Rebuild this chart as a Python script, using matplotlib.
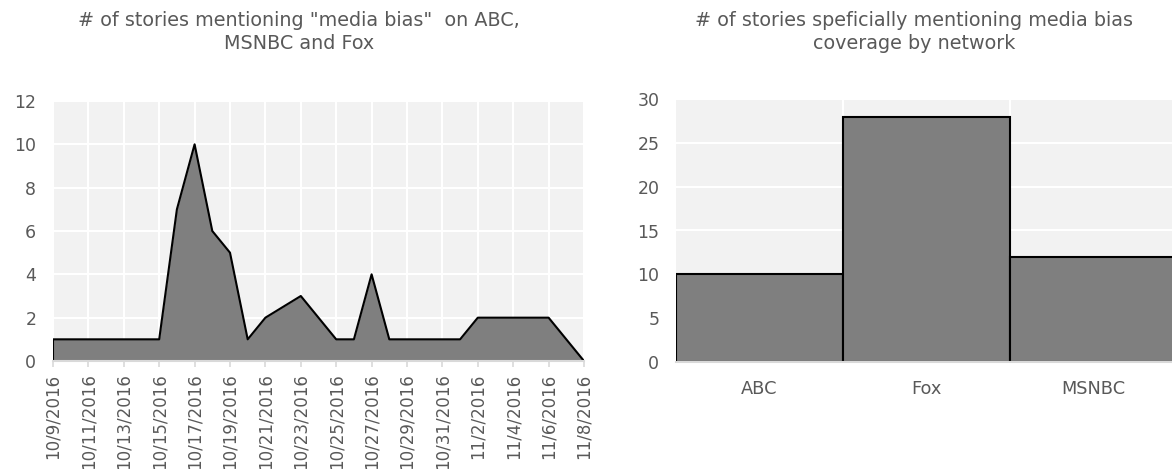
import pandas as pd
import numpy as np
import matplotlib
matplotlib.use("Agg")
import matplotlib.pyplot as plt

# Data
dates = ["2016-10-09", "2016-10-10", "2016-10-11", "2016-10-12", "2016-10-13",
         "2016-10-14", "2016-10-15", "2016-10-16", "2016-10-17", "2016-10-18",
         "2016-10-19", "2016-10-20", "2016-10-21", "2016-10-23", "2016-10-25",
         "2016-10-26", "2016-10-27", "2016-10-28", "2016-10-29", "2016-10-30",
         "2016-10-31", "2016-11-01", "2016-11-02", "2016-11-03", "2016-11-04",
         "2016-11-05", "2016-11-06", "2016-11-08"]
stories = [1, 1, 1, 1, 1, 1, 1, 7, 10, 6, 5, 1, 2, 3, 1, 1, 4, 1, 1, 1, 1, 1,
           2, 2, 2, 2, 2, 0]

networks = ["ABC", "Fox", "MSNBC"]
network_counts = [10, 28, 12]

text_col = "#595959"
fill_col = "#7f7f7f"
bg_col = "#f2f2f2"
axis_col = "#d9d9d9"

plt.rcParams["font.family"] = ["DejaVu Sans"]

W, H = 1172, 469
fig = plt.figure(figsize=(W / 100, H / 100), dpi=100)

def rect(x0, x1, ytop, ybot):
    return [x0 / W, 1 - ybot / H, (x1 - x0) / W, (ybot - ytop) / H]

# Left: area chart over time
ax1 = fig.add_axes(rect(53, 584, 101, 361))
d = pd.to_datetime(dates)
ax1.fill_between(d, 0, stories, color=fill_col, linewidth=0, zorder=2)
ax1.plot([d[0]] + list(d), [0] + stories, color="black", linewidth=1.5, zorder=3)

ticks = pd.date_range("2016-10-09", "2016-11-08", freq="2D")
ax1.set_xticks(ticks)
ax1.set_xticklabels([f"{t.month}/{t.day}/{t.year}" for t in ticks], rotation=90)
ax1.set_xlim(d[0], d[-1])
ax1.set_ylim(0, 12)
ax1.set_yticks(range(0, 13, 2))

fig.text(299 / W, 1 - 32 / H, '# of stories mentioning "media bias"  on ABC,\nMSNBC and Fox',
         ha="center", va="center", fontsize=13.8, color=text_col, linespacing=1.22)

# Right: bar chart by network
ax2 = fig.add_axes(rect(676, 1177, 99, 362))
x = np.arange(len(networks))
ax2.bar(x, network_counts, width=1.0, color=fill_col, edgecolor="black",
        linewidth=1.5, zorder=2)
ax2.set_xticks(x)
ax2.set_xticklabels(networks)
ax2.set_xticks(x[:-1] + 0.5, minor=True)
ax2.set_xlim(-0.5, len(networks) - 0.5)
ax2.set_ylim(0, 30)
ax2.set_yticks(range(0, 31, 5))

fig.text(914 / W, 1 - 32 / H, "# of stories speficially mentioning media bias\ncoverage by network",
         ha="center", va="center", fontsize=13.8, color=text_col, linespacing=1.22)

for ax in (ax1, ax2):
    ax.set_facecolor(bg_col)
    for s in ("top", "right", "left"):
        ax.spines[s].set_visible(False)
    ax.spines["bottom"].set_color(axis_col)
    ax.spines["bottom"].set_linewidth(1.5)
    ax.spines["bottom"].set_zorder(4)
    ax.tick_params(axis="y", length=0, pad=12, labelsize=12.5, labelcolor=text_col)
    ax.grid(True, color="white", linewidth=1.5, zorder=1)
    ax.set_axisbelow(True)

ax1.tick_params(axis="x", length=4, color=axis_col, width=1.2, pad=5,
                labelsize=12, labelcolor=text_col)
ax2.tick_params(axis="x", which="both", length=0, pad=13, labelsize=12.8,
                labelcolor=text_col)
ax2.grid(True, which="minor", axis="x", color="white", linewidth=1.5)
ax2.grid(False, which="major", axis="x")

fig.savefig("out.png", dpi=100)
